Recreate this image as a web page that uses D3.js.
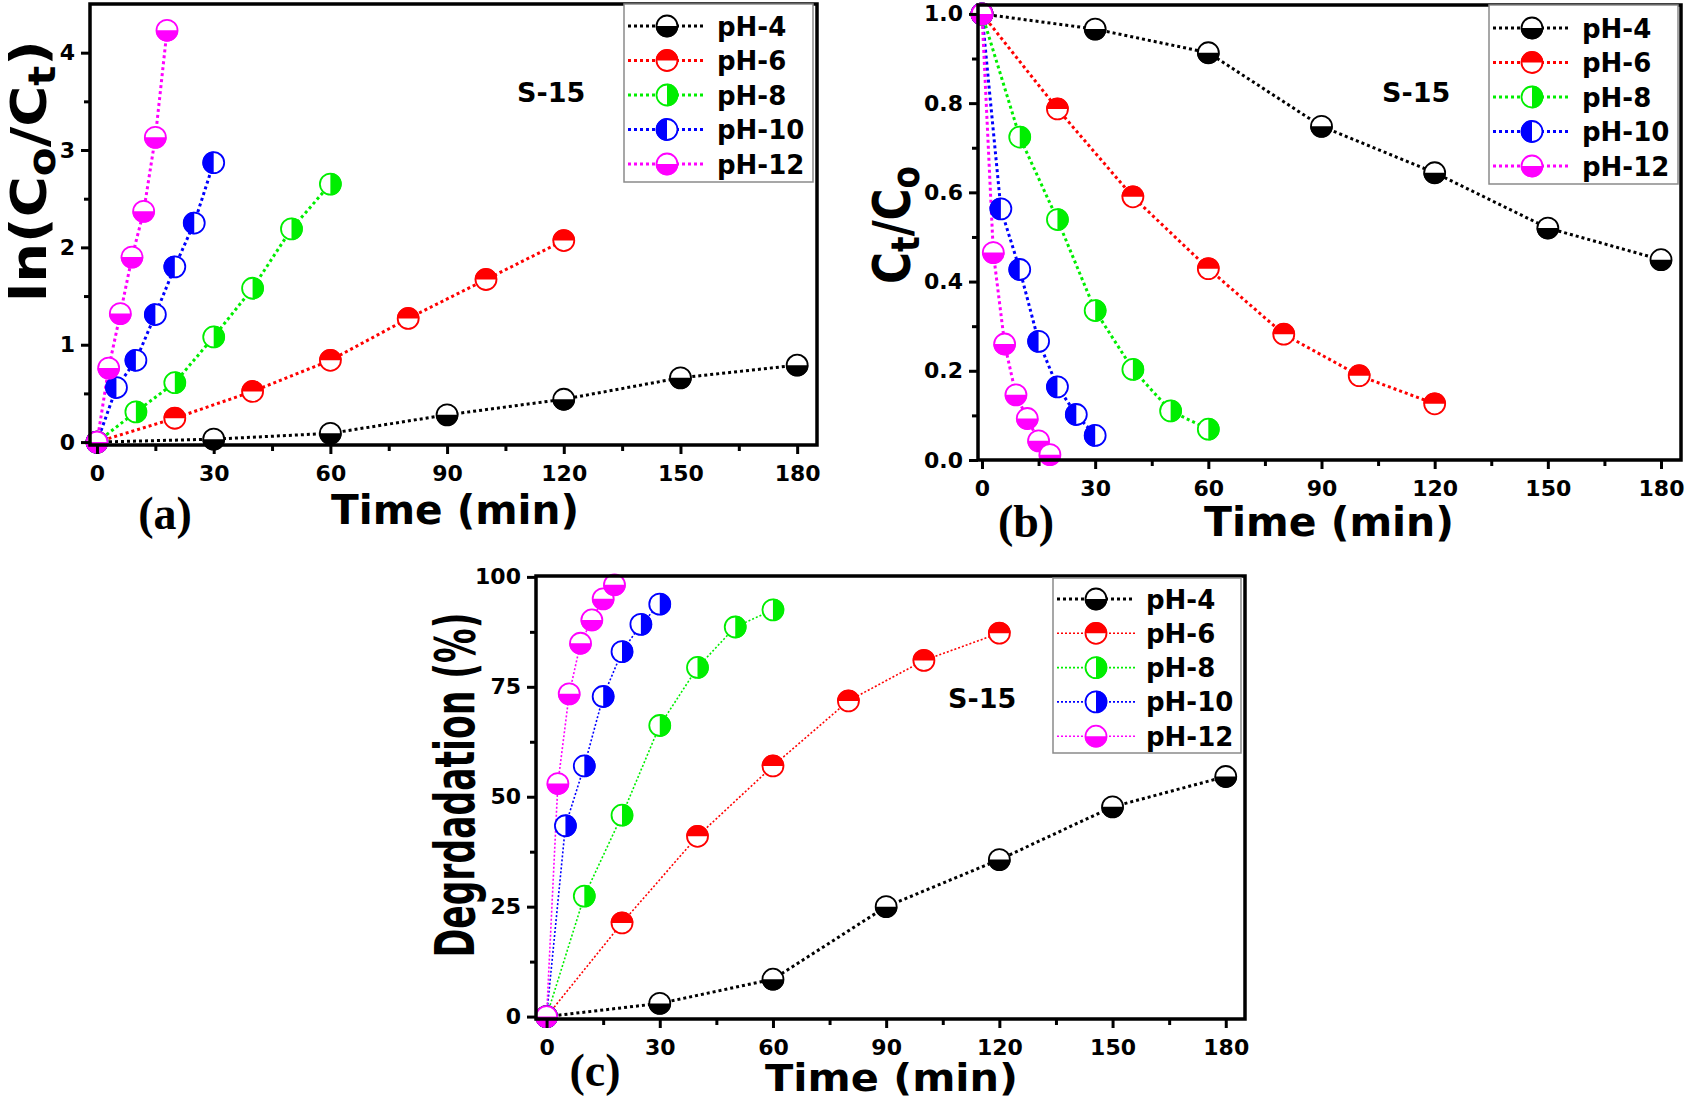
<!DOCTYPE html>
<html>
<head>
<meta charset="utf-8">
<script src="https://cdn.jsdelivr.net/npm/d3@7"></script>
<style>
  body { margin: 0; background: #fff; }
  svg text { font-family: "DejaVu Sans", sans-serif; font-weight: bold; }
</style>
</head>
<body>
<svg id="fig" width="1686" height="1103"></svg>
<script>
// series names and colours
var phNames = ["pH-4", "pH-6", "pH-8", "pH-10", "pH-12"];
var phColors = ["#000000", "#ff0000", "#00ee00", "#0000ff", "#ff00ff"];

// sampling times (min) for each pH
var timesPH4 = [0, 30, 60, 90, 120, 150, 180];
var timesPH6 = [0, 20, 40, 60, 80, 100, 120];
var timesPH8 = [0, 10, 20, 30, 40, 50, 60];
var timesPH10 = [0, 5, 10, 15, 20, 25, 30];
var timesPH12 = [0, 3, 6, 9, 12, 15, 18];

// (a) ln(Co/Ct)
var lnPH4 = [0, 0.03, 0.09, 0.28, 0.44, 0.66, 0.79];
var lnPH6 = [0, 0.245, 0.52, 0.84, 1.27, 1.67, 2.07];
var lnPH8 = [0, 0.31, 0.61, 1.08, 1.58, 2.19, 2.65];
var lnPH10 = [0, 0.56, 0.84, 1.31, 1.80, 2.25, 2.87];
var lnPH12 = [0, 0.76, 1.32, 1.90, 2.37, 3.13, 4.23];

// (b) Ct/Co
var ctPH4 = [1.0, 0.966, 0.913, 0.748, 0.644, 0.52, 0.449];
var ctPH6 = [1.0, 0.787, 0.59, 0.429, 0.282, 0.189, 0.126];
var ctPH8 = [1.0, 0.724, 0.539, 0.335, 0.203, 0.11, 0.069];
var ctPH10 = [1.0, 0.563, 0.427, 0.266, 0.164, 0.102, 0.055];
var ctPH12 = [1.0, 0.465, 0.26, 0.146, 0.093, 0.043, 0.012];

// (c) Degradation %
var degPH4 = [0, 3.0, 8.5, 25.0, 35.7, 47.7, 54.6];
var degPH6 = [0, 21.3, 41.0, 57.0, 71.8, 81.0, 87.2];
var degPH8 = [0, 27.4, 45.8, 66.2, 79.4, 88.6, 92.5];
var degPH10 = [0, 43.4, 57.0, 72.8, 83.0, 89.2, 93.8];
var degPH12 = [0, 53.0, 73.4, 84.9, 90.2, 95.0, 98.2];

var xTicks = [0, 30, 60, 90, 120, 150, 180];
var xMinor = [15, 45, 75, 105, 135, 165];
var yTicksA = [0, 1, 2, 3, 4];
var yTicksB = [0, 0.2, 0.4, 0.6, 0.8, 1.0];
var yTicksC = [0, 25, 50, 75, 100];

var allTimes = [timesPH4, timesPH6, timesPH8, timesPH10, timesPH12];

function series(vals) {
    return phNames.map(function (name, i) {
        return {
            name: name,
            color: phColors[i],
            points: allTimes[i].map(function (t, j) { return { t: t, v: vals[i][j] }; })
        };
    });
}

var svg = d3.select("#fig");

// half-filled circle marker
function halfPath(side, r) {
    if (side == "bottom") return "M" + (-r) + ",0A" + r + "," + r + " 0 0 0 " + r + ",0Z";
    if (side == "top") return "M" + (-r) + ",0A" + r + "," + r + " 0 0 1 " + r + ",0Z";
    if (side == "left") return "M0," + (-r) + "A" + r + "," + r + " 0 0 0 0," + r + "Z";
    return "M0," + (-r) + "A" + r + "," + r + " 0 0 1 0," + r + "Z";
}

function drawMarker(g, x, y, color, side) {
    var m = g.append("g").attr("transform", "translate(" + x + "," + y + ")");
    m.append("circle").attr("r", 10.5).attr("fill", "#fff")
        .attr("stroke", color).attr("stroke-width", 1.8);
    m.append("path").attr("d", halfPath(side, 11.2)).attr("fill", color);
}

function drawPanel(cfg) {
    var g = svg.append("g");
    var x = d3.scaleLinear().domain(cfg.xDomain).range([cfg.left, cfg.right]);
    var y = d3.scaleLinear().domain(cfg.yDomain).range([cfg.bottom, cfg.top]);

    // lines
    var line = d3.line().x(d => x(d.t)).y(d => y(d.v));
    cfg.data.forEach(function (s, i) {
        var thin = cfg.thin && i > 0;
        g.append("path")
            .attr("d", line(s.points))
            .attr("fill", "none")
            .attr("stroke", s.color)
            .attr("stroke-width", thin ? 1.6 : 3)
            .attr("stroke-dasharray", thin ? "2,2" : "3,3");
    });
    // markers
    cfg.data.forEach(function (s, i) {
        s.points.forEach(function (p) {
            drawMarker(g, x(p.t), y(p.v), s.color, cfg.sides[i]);
        });
    });

    // frame
    g.append("rect")
        .attr("x", cfg.left).attr("y", cfg.top)
        .attr("width", cfg.right - cfg.left).attr("height", cfg.bottom - cfg.top)
        .attr("fill", "none").attr("stroke", "#000").attr("stroke-width", 3.5);

    // x axis ticks
    var xAxis = d3.axisBottom(x).tickValues(xTicks).tickSize(9).tickPadding(5);
    var xa = g.append("g").attr("transform", "translate(0," + cfg.bottom + ")").call(xAxis);
    xa.select(".domain").remove();
    xa.selectAll("line").attr("stroke-width", 3);
    xa.selectAll("text").attr("font-size", 22).attr("font-family", "DejaVu Sans")
        .attr("font-weight", "bold").attr("fill", "#000").attr("dy", "1em");
    var xm = g.append("g").attr("transform", "translate(0," + cfg.bottom + ")")
        .call(d3.axisBottom(x).tickValues(xMinor).tickSize(6).tickFormat(""));
    xm.select(".domain").remove();
    xm.selectAll("line").attr("stroke-width", 3);

    // y axis ticks
    var yAxis = d3.axisLeft(y).tickValues(cfg.yTicks).tickSize(9).tickPadding(6)
        .tickFormat(cfg.yFormat);
    var ya = g.append("g").attr("transform", "translate(" + cfg.left + ",0)").call(yAxis);
    ya.select(".domain").remove();
    ya.selectAll("line").attr("stroke-width", 3);
    ya.selectAll("text").attr("font-size", 22).attr("font-family", "DejaVu Sans")
        .attr("font-weight", "bold").attr("fill", "#000");
    var ym = g.append("g").attr("transform", "translate(" + cfg.left + ",0)")
        .call(d3.axisLeft(y).tickValues(cfg.yMinor).tickSize(6).tickFormat(""));
    ym.select(".domain").remove();
    ym.selectAll("line").attr("stroke-width", 3);

    // axis titles
    g.append("text").attr("x", (cfg.timeLeft + cfg.timeRight) / 2).attr("y", cfg.timeY)
        .attr("text-anchor", "middle").attr("font-size", cfg.timeSize)
        .attr("textLength", cfg.timeRight - cfg.timeLeft).attr("lengthAdjust", "spacingAndGlyphs")
        .text("Time (min)");

    var yl = g.append("text")
        .attr("transform", "translate(" + cfg.ylabX + "," + cfg.ylabY + ") rotate(-90)")
        .attr("text-anchor", "middle").attr("font-size", cfg.ylabSize)
        .attr("textLength", cfg.ylabLen).attr("lengthAdjust", "spacingAndGlyphs");
    cfg.ylabParts.forEach(function (p) {
        var ts = yl.append("tspan").text(p[0]);
        if (p[1]) ts.attr("font-size", cfg.ylabSize * 0.75).attr("dy", cfg.ylabSize * 0.18);
        else if (p[2]) ts.attr("dy", -cfg.ylabSize * 0.18);
    });

    // panel label
    g.append("text").attr("x", cfg.tagX).attr("y", cfg.tagY)
        .attr("text-anchor", "middle").attr("font-size", 46)
        .style("font-family", "Liberation Serif")
        .text(cfg.tag);

    // S-15
    g.append("text").attr("x", cfg.sX).attr("y", cfg.sY).attr("font-size", 27).text("S-15");

    // legend
    var lg = g.append("g").attr("transform", "translate(" + cfg.legX + "," + cfg.legY + ")");
    lg.append("rect").attr("width", cfg.legW).attr("height", cfg.legH)
        .attr("fill", "#fff").attr("stroke", "#8a8a8a").attr("stroke-width", 1.5);
    cfg.data.forEach(function (s, i) {
        var yy = cfg.legRow0 + i * cfg.legStep;
        var thin = cfg.thin && i > 0;
        lg.append("line").attr("x1", 4).attr("x2", 82).attr("y1", yy).attr("y2", yy)
            .attr("stroke", s.color).attr("stroke-width", thin ? 1.6 : 3)
            .attr("stroke-dasharray", thin ? "2,2" : "3,3");
        drawMarker(lg, 43, yy, s.color, cfg.sides[i]);
        lg.append("text").attr("x", 93).attr("y", yy + 9.5).attr("font-size", 26).text(s.name);
    });
}

// (a)
drawPanel({
    data: series([lnPH4, lnPH6, lnPH8, lnPH10, lnPH12]),
    left: 90, right: 817, top: 4, bottom: 445,
    xDomain: [-1.8, 185.1], yDomain: [-0.03, 4.5],
    yTicks: yTicksA, yMinor: [0.5, 1.5, 2.5, 3.5], yFormat: d3.format("d"),
    sides: ["bottom", "top", "right", "left", "bottom"],
    thin: false,
    timeLeft: 331, timeRight: 579, timeY: 524, timeSize: 41,
    ylabX: 46, ylabY: 171, ylabSize: 50, ylabLen: 262,
    ylabParts: [["ln(C"], ["o", true], ["/C", false, true], ["t", true], [")", false, true]],
    tag: "(a)", tagX: 165, tagY: 529,
    sX: 517, sY: 102,
    legX: 624, legY: 4, legW: 189, legH: 178, legRow0: 22, legStep: 34.5
});

// (b)
drawPanel({
    data: series([ctPH4, ctPH6, ctPH8, ctPH10, ctPH12]),
    left: 978, right: 1681, top: 5, bottom: 460,
    xDomain: [-1.06, 185.3], yDomain: [0, 1.02],
    yTicks: yTicksB, yMinor: [0.1, 0.3, 0.5, 0.7, 0.9], yFormat: d3.format(".1f"),
    sides: ["bottom", "top", "right", "left", "bottom"],
    thin: false,
    timeLeft: 1204, timeRight: 1454, timeY: 536, timeSize: 41,
    ylabX: 910, ylabY: 225, ylabSize: 52, ylabLen: 118,
    ylabParts: [["C"], ["t", true], ["/C", false, true], ["o", true]],
    tag: "(b)", tagX: 1026, tagY: 537,
    sX: 1382, sY: 102,
    legX: 1489, legY: 5, legW: 189, legH: 179, legRow0: 23, legStep: 34.5
});

// (c)
drawPanel({
    data: series([degPH4, degPH6, degPH8, degPH10, degPH12]),
    left: 536, right: 1245, top: 576, bottom: 1019,
    xDomain: [-2.8, 185.1], yDomain: [-0.55, 100.2],
    yTicks: yTicksC, yMinor: [12.5, 37.5, 62.5, 87.5], yFormat: d3.format("d"),
    sides: ["bottom", "top", "right", "right", "bottom"],
    thin: true,
    timeLeft: 765, timeRight: 1018, timeY: 1091, timeSize: 37,
    ylabX: 474, ylabY: 785, ylabSize: 56, ylabLen: 345,
    ylabParts: [["Degrdadation (%)"]],
    tag: "(c)", tagX: 595, tagY: 1086,
    sX: 948, sY: 708,
    legX: 1053, legY: 578, legW: 188, legH: 175, legRow0: 21, legStep: 34.3
});
</script>
</body>
</html>
